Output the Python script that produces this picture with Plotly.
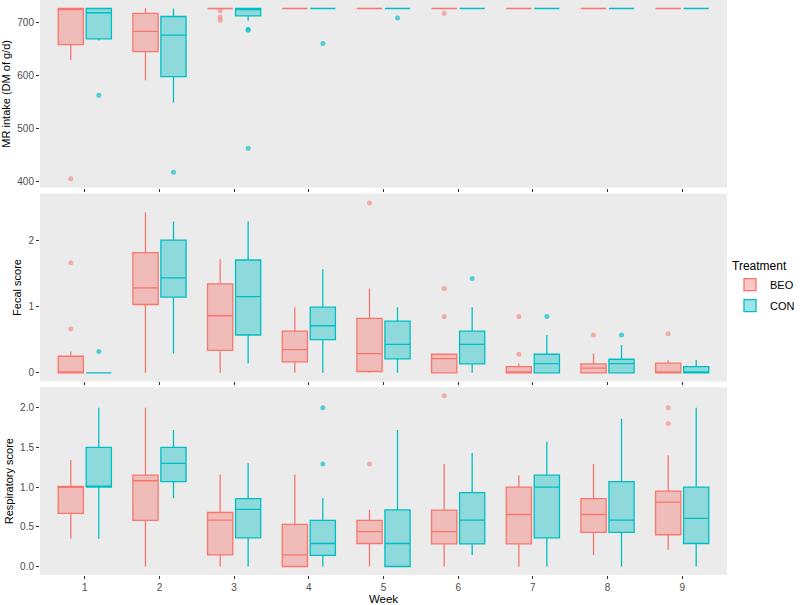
import plotly.graph_objects as go
from plotly.subplots import make_subplots

weeks = [1, 2, 3, 4, 5, 6, 7, 8, 9]
treatments = ["BEO", "CON"]

# MR intake (DM of g/d)
mr_beo_lo  = [629, 591, 726, 726, 726, 726, 726, 726, 726]
mr_beo_q1  = [658, 645, 726, 726, 726, 726, 726, 726, 726]
mr_beo_med = [726, 683, 726, 726, 726, 726, 726, 726, 726]
mr_beo_q3  = [726, 717, 726, 726, 726, 726, 726, 726, 726]
mr_beo_hi  = [726, 726, 726, 726, 726, 726, 726, 726, 726]
mr_beo_out = [[406], [], [722, 710, 704], [], [], [717], [], [], []]

mr_con_lo  = [666, 549, 703, 726, 726, 726, 726, 726, 726]
mr_con_q1  = [669, 598, 712, 726, 726, 726, 726, 726, 726]
mr_con_med = [718, 676, 726, 726, 726, 726, 726, 726, 726]
mr_con_q3  = [726, 711, 726, 726, 726, 726, 726, 726, 726]
mr_con_hi  = [726, 726, 726, 726, 726, 726, 726, 726, 726]
mr_con_out = [[563], [418], [687, 685, 463], [660], [708], [], [], [], []]

# Fecal score
fe_beo_lo  = [0, 0, 0, 0, 0, 0, 0, 0, 0]
fe_beo_q1  = [0, 1.03, 0.34, 0.165, 0.02, 0, 0, 0, 0]
fe_beo_med = [0, 1.28, 0.86, 0.35, 0.29, 0.215, 0, 0.07, 0]
fe_beo_q3  = [0.25, 1.81, 1.34, 0.63, 0.82, 0.28, 0.095, 0.135, 0.145]
fe_beo_hi  = [0.32, 2.42, 1.71, 0.99, 1.27, 0.28, 0.14, 0.29, 0.19]
fe_beo_out = [[0.66, 1.66], [], [], [], [2.56], [0.85, 1.27], [0.28, 0.85], [0.57], [0.59]]

fe_con_lo  = [0, 0.29, 0.14, 0, 0, 0, 0, 0, 0]
fe_con_q1  = [0, 1.14, 0.57, 0.50, 0.21, 0.135, 0, 0, 0]
fe_con_med = [0, 1.43, 1.15, 0.71, 0.43, 0.43, 0.14, 0.14, 0]
fe_con_q3  = [0, 2.0, 1.70, 0.99, 0.78, 0.63, 0.28, 0.205, 0.095]
fe_con_hi  = [0, 2.28, 2.28, 1.56, 0.99, 0.99, 0.57, 0.42, 0.195]
fe_con_out = [[0.32], [], [], [], [], [1.42], [0.85], [0.57], []]

# Respiratory score
re_beo_lo  = [0.35, 0, 0, 0, 0, 0, 0, 0.146, 0.21]
re_beo_q1  = [0.67, 0.58, 0.146, 0, 0.29, 0.284, 0.284, 0.43, 0.40]
re_beo_med = [1.0, 1.08, 0.585, 0.146, 0.44, 0.44, 0.655, 0.655, 0.81]
re_beo_q3  = [1.01, 1.15, 0.68, 0.53, 0.58, 0.71, 1.0, 0.856, 0.95]
re_beo_hi  = [1.34, 2.0, 1.16, 1.16, 0.714, 1.29, 1.15, 1.29, 1.40]
re_beo_out = [[], [], [], [], [1.29], [2.15], [], [], [1.80, 2.0]]

re_con_lo  = [0.35, 0.86, 0, 0, 0, 0.146, 0, 0, 0]
re_con_q1  = [1.0, 1.07, 0.36, 0.14, 0, 0.284, 0.36, 0.43, 0.29]
re_con_med = [1.0, 1.30, 0.72, 0.29, 0.29, 0.585, 1.0, 0.585, 0.605]
re_con_q3  = [1.5, 1.5, 0.856, 0.58, 0.714, 0.93, 1.15, 1.07, 1.0]
re_con_hi  = [2.0, 1.72, 1.30, 0.86, 1.72, 1.43, 1.57, 1.86, 2.0]
re_con_out = [[], [], [], [1.29, 2.0], [], [], [], [], []]

panels = [
    ("MR intake (DM of g/d)",
     [(mr_beo_lo, mr_beo_q1, mr_beo_med, mr_beo_q3, mr_beo_hi, mr_beo_out),
      (mr_con_lo, mr_con_q1, mr_con_med, mr_con_q3, mr_con_hi, mr_con_out)],
     [389, 742], [400, 500, 600, 700], ["400", "500", "600", "700"]),
    ("Fecal score",
     [(fe_beo_lo, fe_beo_q1, fe_beo_med, fe_beo_q3, fe_beo_hi, fe_beo_out),
      (fe_con_lo, fe_con_q1, fe_con_med, fe_con_q3, fe_con_hi, fe_con_out)],
     [-0.128, 2.70], [0, 1, 2], ["0", "1", "2"]),
    ("Respiratory score",
     [(re_beo_lo, re_beo_q1, re_beo_med, re_beo_q3, re_beo_hi, re_beo_out),
      (re_con_lo, re_con_q1, re_con_med, re_con_q3, re_con_hi, re_con_out)],
     [-0.107, 2.257], [0, 0.5, 1.0, 1.5, 2.0], ["0.0", "0.5", "1.0", "1.5", "2.0"]),
]

line_colors = {"BEO": "#F8766D", "CON": "#00BFC4"}
fill_colors = {"BEO": "rgba(248,118,109,0.4)", "CON": "rgba(0,191,196,0.4)"}
point_colors = {"BEO": "rgba(248,118,109,0.55)", "CON": "rgba(0,191,196,0.65)"}

fig = make_subplots(rows=3, cols=1, shared_xaxes=True, vertical_spacing=0.0104)

for r, (title, series, yr, tv, tt) in enumerate(panels, start=1):
    for name, (lo, q1, med, q3, hi, out) in zip(treatments, series):
        fig.add_trace(go.Box(
            x=weeks,
            lowerfence=lo, q1=q1, median=med, q3=q3, upperfence=hi,
            name=name, legendgroup=name, showlegend=(r == 1),
            offsetgroup=name,
            boxpoints=False,
            line=dict(color=line_colors[name], width=1.3),
            fillcolor=fill_colors[name],
            whiskerwidth=0,
            hoverinfo="skip",
        ), row=r, col=1)
    for name, (lo, q1, med, q3, hi, out) in zip(treatments, series):
        ox = [w for w, vals in zip(weeks, out) for _ in vals]
        oy = [v for vals in out for v in vals]
        fig.add_trace(go.Scatter(
            x=ox, y=oy, mode="markers",
            name=name, legendgroup=name, showlegend=False,
            offsetgroup=name,
            marker=dict(color=point_colors[name], size=5, line=dict(width=0)),
            hoverinfo="skip",
        ), row=r, col=1)
    fig.update_yaxes(row=r, col=1, type="linear", range=yr, tickvals=tv, ticktext=tt,
                     title=dict(text=title, font=dict(size=11, color="#000000"),
                                standoff=4),
                     showgrid=False, zeroline=False,
                     ticks="outside", ticklen=3, tickcolor="#333333",
                     tickfont=dict(size=10, color="#4D4D4D"))

fig.update_xaxes(type="linear", range=[0.4, 9.6], tickvals=weeks,
                 ticktext=[str(w) for w in weeks],
                 showgrid=False, zeroline=False,
                 ticks="outside", ticklen=3, tickcolor="#333333",
                 tickfont=dict(size=10, color="#4D4D4D"))
fig.update_xaxes(row=3, col=1,
                 title=dict(text="Week", font=dict(size=11.5, color="#000000"), standoff=3))

fig.update_layout(
    width=800, height=605,
    margin=dict(l=40, r=73, t=0, b=30),
    paper_bgcolor="white",
    plot_bgcolor="#EBEBEB",
    boxmode="group", boxgap=0.25, boxgroupgap=0.1,
    scattermode="group", scattergap=0.25,
    font=dict(family="Liberation Sans, Arial, sans-serif"),
    legend=dict(title=dict(text="Treatment", font=dict(size=12, color="#000000")),
                font=dict(size=11, color="#000000"),
                x=1.005, xanchor="left", y=0.5, yanchor="middle",
                bgcolor="rgba(0,0,0,0)", tracegroupgap=2),
)

fig.write_html("out.html", config={"displayModeBar": False},
               post_script="document.body.style.margin='0';")
